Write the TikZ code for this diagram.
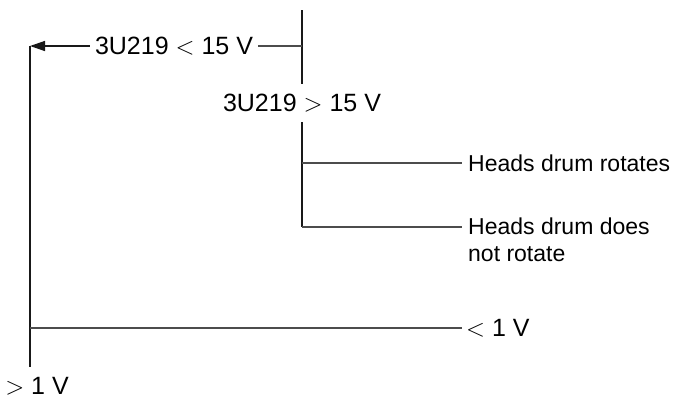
\documentclass[tikz,border=0pt]{standalone}
\usepackage{fontspec}
\setmainfont{Liberation Sans}
\usetikzlibrary{arrows.meta,positioning,calc}

\begin{document}
\begin{tikzpicture}[
      x=1pt, y=-1pt,
      volt/.style={font=\fontsize{25}{30}\selectfont, inner xsep=2pt, inner ysep=3pt},
      result/.style={font=\fontsize{23}{27}\selectfont, align=left,
                     inner xsep=6pt, anchor=west},
      wire/.style={line width=1.4pt, black!90},
      hwire/.style={line width=1.2pt, black!70},
      arr/.style={wire, -{Triangle[length=15pt,width=10pt]}},
    ]
    \useasboundingbox (0,0) rectangle (675,399);

    % Corner points of the wires
    \coordinate (top)     at (302,10);
    \coordinate (lefttop) at (30,46);
    \coordinate (leftbot) at (30,367);
    \coordinate (fork)    at (302,227);

    % Voltage checks
    \node[volt, inner xsep=5pt] (lt) at (174,46) {3U219 $<$ 15 V};
    \node[volt, inner ysep=10pt] (gt) at (302,103) {3U219 $>$ 15 V};
    \node[volt, anchor=west, inner xsep=4pt] (lv) at (462,328) {$<$ 1 V};
    \node[volt] (gv) at (37,386) {$>$ 1 V};

    % Results
    \node[result] (rot) at (462,163) {Heads drum rotates};
    \node[result, anchor=north west] (norot) at (462,214)
      {Heads drum does\\not rotate};

    % Wires: upper branch
    \draw[wire] (top) -- (gt.north);
    \draw[hwire] (lt.east) -- (lt.east -| top);
    \draw[arr] (lt.west) -- (lt.west -| lefttop);

    % Wires: left trunk and lower branch
    \draw[wire] (lefttop) -- (leftbot);
    \draw[hwire] (lv.west -| lefttop) -- (lv.west);

    % Wires: right trunk and results
    \draw[wire] (gt.south) -- (fork);
    \draw[hwire] (rot.west -| fork) -- (rot.west);
    \draw[hwire] (fork) -- (fork -| norot.west);

    \end{tikzpicture}
\end{document}
